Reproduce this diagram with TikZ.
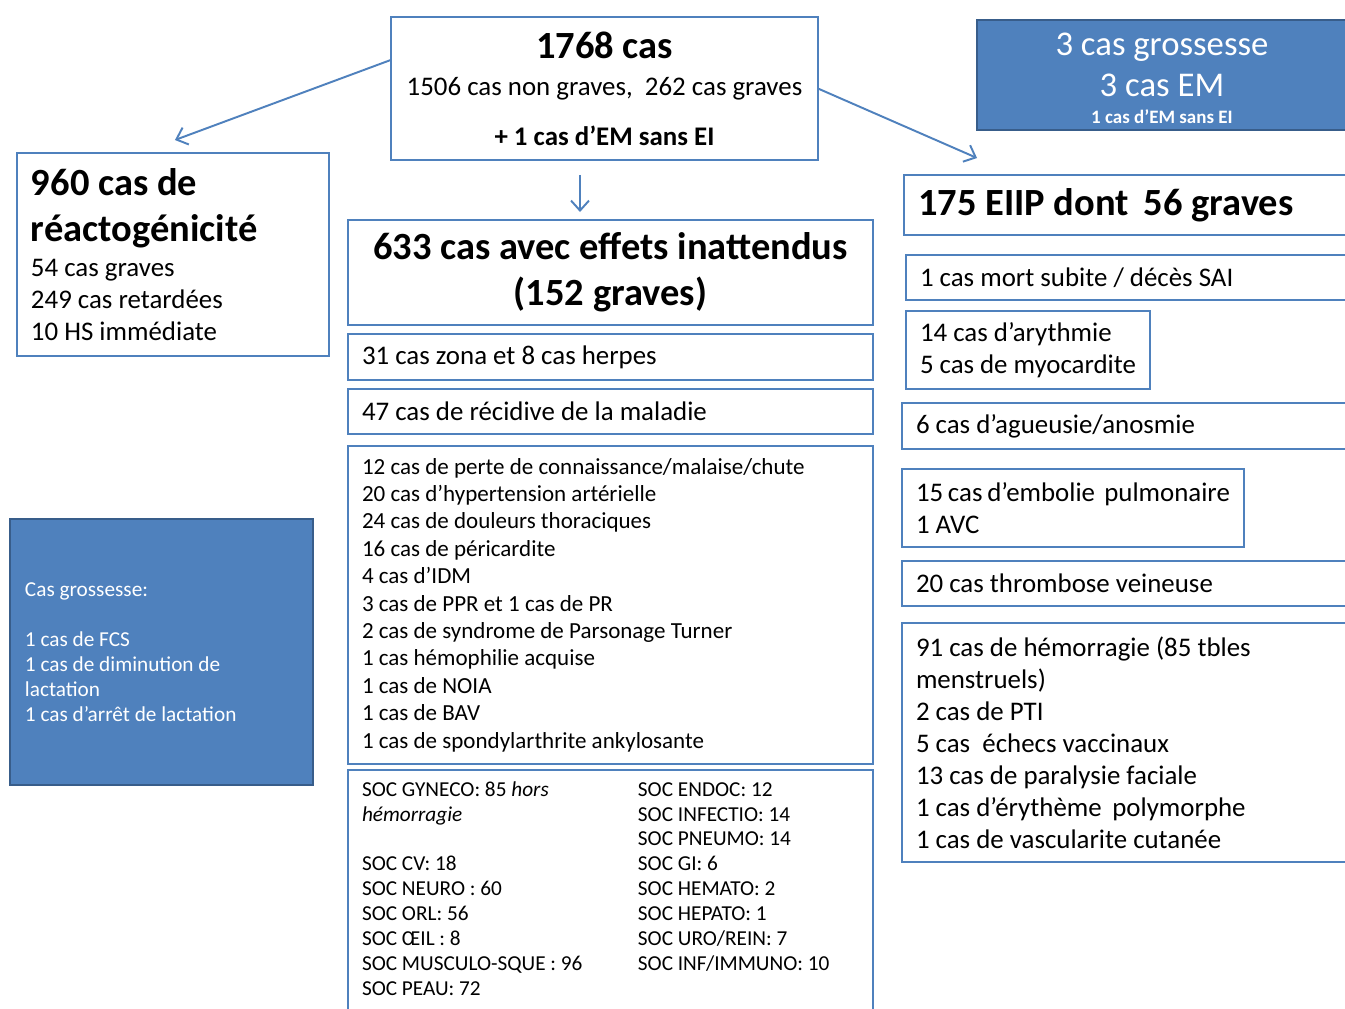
\documentclass[tikz,border=0pt]{standalone}
\usepackage{fontspec}
\setmainfont{Carlito}
\usetikzlibrary{arrows.meta, calc, positioning}
\definecolor{bleu}{RGB}{79,129,189}
\definecolor{bleufonce}{RGB}{56,93,138}
\newcommand{\grand}{\fontsize{21.9}{26.2}\selectfont\bfseries}
\newcommand{\moyen}{\fontsize{15.3}{18.2}\selectfont}
\newcommand{\liste}{\fontsize{13.1}{15.6}\selectfont}
\newcommand{\petit}{\fontsize{12.1}{14.2}\selectfont}
\hyphenpenalty=10000
\exhyphenpenalty=10000
\tikzset{
    case/.style={draw=bleu, line width=1.1pt, fill=white, text=black, outer sep=0pt,
        anchor=north west, align=flush left, inner xsep=0.28cm, inner ysep=0pt}, % cadre blanc
    casebleue/.style={case, draw=bleufonce, line width=1.4pt, fill=bleu, text=white},
}
\tikzstyle{arrow} = [line width=1.1pt, draw=bleu, -{Straight Barb[length=0.2cm, width=0.36cm]}]

\begin{document}
\begin{tikzpicture}[x=0.02cm, y=-0.02cm]
    \path[use as bounding box, fill=white] (0,0) rectangle (1345,1008);
    \clip (0,0) rectangle (1345,1008);

    % Cases du haut
    \node[case, align=flush center, text width=8.34cm, inner xsep=0.1cm, minimum height=2.86cm, font=\moyen] (total) at (391,17)
        {{\grand 1768 cas}\\[3pt]1506 cas non graves,\ \ 262 cas graves\\[10pt]\textbf{+ 1 cas d’EM sans EI}};
    \node[case, text width=5.68cm, minimum height=4.06cm, font=\moyen] (reacto) at (17,153)
        {{\grand 960 cas de\\réactogénicité\par}\vspace{2pt}54 cas graves\\249 cas retardées\\10 HS immédiate};
    \node[casebleue, align=flush center, text width=6.84cm, minimum height=2.2cm,
        font=\fontsize{19.75}{23.3}\selectfont] (gross) at (977,20)
        {\rule{0pt}{16.6pt}3 cas grossesse\\3 cas EM\\[-8.2pt]{\fontsize{10.8}{12}\selectfont\bfseries 1 cas d’EM sans EI}};
    \node[casebleue, text width=5.46cm, minimum height=5.32cm, inner xsep=0.3cm, font=\petit] (grossliste) at (10,519)
        {Cas grossesse:\\[14.2pt]1 cas de FCS\\1 cas de diminution de\\lactation\\1 cas d’arrêt de lactation};

    % Colonne du milieu
    \node[case, align=flush center, text width=9.94cm, minimum height=2.1cm, font=\grand] (inatt) at (348,220)
        {633 cas avec effets inattendus\\(152 graves)};
    \node[case, text width=9.94cm, minimum height=0.92cm, font=\moyen] (zona)
        [below right=0.18cm and 0cm of inatt.south west] {31 cas zona et 8 cas herpes};
    \node[case, text width=9.94cm, minimum height=0.9cm, font=\moyen] (recid)
        [below right=0.18cm and 0cm of zona.south west] {47 cas de récidive de la maladie};
    \node[case, text width=9.94cm, minimum height=6.36cm, font=\liste] (liste)
        [below right=0.24cm and 0cm of recid.south west]
        {12 cas de perte de connaissance/malaise/chute\\20 cas d’hypertension artérielle\\
         24 cas de douleurs thoraciques\\16 cas de péricardite\\4 cas d’IDM\\
         3 cas de PPR et 1 cas de PR\\2 cas de syndrome de Parsonage Turner\\
         1 cas hémophilie acquise\\1 cas de NOIA\\1 cas de BAV\\1 cas de spondylarthrite ankylosante};
    \node[case, text width=9.94cm, minimum height=4.84cm, font=\petit] (soc)
        [below right=0.12cm and 0cm of liste.south west]
        {\begin{tabular}{@{}p{5.52cm}@{}l@{}}
            SOC GYNECO: 85 \textit{hors} & SOC ENDOC: 12\\
            \textit{hémorragie} & SOC INFECTIO: 14\\
             & SOC PNEUMO: 14\\
            SOC CV: 18 & SOC GI: 6\\
            SOC NEURO : 60 & SOC HEMATO: 2\\
            SOC ORL: 56 & SOC HEPATO: 1\\
            SOC ŒIL : 8 & SOC URO/REIN: 7\\
            SOC MUSCULO-SQUE : 96 & SOC INF/IMMUNO: 10\\
            SOC PEAU: 72 &
        \end{tabular}};

    % Colonne de droite
    \node[case, text width=8.56cm, minimum height=1.2cm, font=\grand] (eiip) at (904,175)
        {175 EIIP dont\ \,56 graves};
    \node[case, text width=8.52cm, minimum height=0.9cm, font=\moyen] (mort)
        [below right=0.4cm and 0.04cm of eiip.south west] {1 cas mort subite / décès SAI};
    \node[case, text width=4.32cm, minimum height=1.56cm, font=\moyen] (aryth)
        [below right=0.22cm and 0cm of mort.south west] {14~cas~d’arythmie\\5~cas~de~myocardite};
    \node[case, text width=8.6cm, minimum height=0.92cm, font=\moyen] (agueu)
        [below right=0.28cm and -0.08cm of aryth.south west] {6 cas d’agueusie/anosmie};
    \node[case, text width=6.28cm, minimum height=1.56cm, font=\moyen] (embol)
        [below right=0.4cm and 0cm of agueu.south west] {15~cas~d’embolie~\,pulmonaire\\1 AVC};
    \node[case, text width=8.6cm, minimum height=0.9cm, font=\moyen] (thromb)
        [below right=0.28cm and 0cm of embol.south west] {20 cas thrombose veineuse};
    \node[case, text width=8.6cm, minimum height=4.78cm, font=\moyen] (hemo)
        [below right=0.34cm and 0cm of thromb.south west]
        {91 cas de hémorragie (85 tbles\\menstruels)\\2 cas de PTI\\5 cas\ \ échecs vaccinaux\\
         13 cas de paralysie faciale\\1 cas d’érythème\ \,polymorphe\\1 cas de vascularite cutanée};

    % Flèches
    \coordinate (reactoin) at ($(reacto.north)+(2,-13)$);
    \coordinate (eiipin) at ($(eiip.north west)+(73,-17)$);
    \coordinate (bas) at (580,0);
    \draw[arrow] ($(total.north west)!0.3!(total.south west)$) -- (reactoin);
    \draw[arrow] (total.east) -- (eiipin);
    \draw[arrow, shorten <=0.3cm, shorten >=0.16cm] (total.south -| bas) -- (inatt.north -| bas);
\end{tikzpicture}
\end{document}
